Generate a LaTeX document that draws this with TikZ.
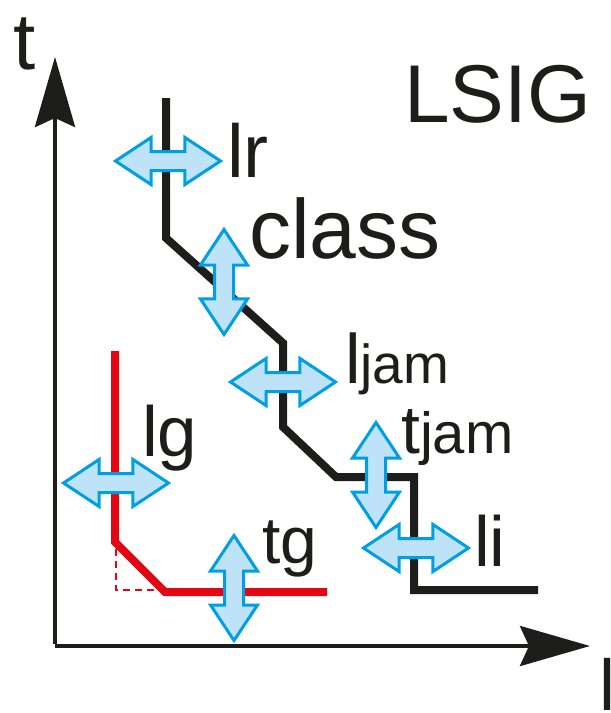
\documentclass[tikz,border=0pt]{standalone}
\usepackage{fontspec}
\setmainfont{Liberation Sans}
\usepackage{xcolor}
\usepackage{tikz}
\usetikzlibrary{arrows.meta,shapes.arrows}

\definecolor{lineblack}{RGB}{29,29,27}
\definecolor{linered}{RGB}{227,6,19}
\definecolor{arrowblue}{RGB}{0,159,227}
\definecolor{arrowfill}{RGB}{190,227,249}

\tikzset{
  dblarrow/.style={shape=double arrow,draw=arrowblue,fill=arrowfill,line width=3pt,
    inner sep=0pt,inner ysep=8pt,minimum height=105pt,minimum width=0pt,
    double arrow head extend=14pt,double arrow tip angle=67},
  lbl/.style={anchor=base west,inner sep=0pt,text=lineblack},
  axis/.style={line width=4pt,lineblack,-{Stealth[length=70pt,width=40pt,inset=9pt]}}
}
\newcommand{\fs}[1]{\fontsize{#1}{#1}\selectfont}

\begin{document}
\begin{tikzpicture}[x=1pt,y=-1pt]
	\useasboundingbox (0,0) rectangle (611,713);
		% axes
		\coordinate (O) at (55,646);
		\draw[axis] ([yshift=2pt]O) -- (55,57) coordinate (t axis);
		\draw[axis] (O) -- (590,646) coordinate (l axis);
		\node[lbl,font=\fs{80}] (tlab) at (13,69) {t};
		\node[lbl,font=\fs{72}] (llab) at (599,710) {l};
		% red curve
		\draw[linered,line width=8pt] (115,351) -- (115,542) -- (165,592) -- (327,592);
		\draw[linered,line width=1.5pt,dash pattern=on 7pt off 5pt] (116,549) -- (116,590) -- (160,590);
		% black curve
		\draw[lineblack,line width=8pt] (166,98) -- (166,238) -- (283,343) -- (283,427)
			-- (336,477) -- (414,477) -- (414,590) -- (538,590);
		% double arrows
		\node[dblarrow] (lr arrow) at (168,161) {};
		\node[dblarrow,rotate=90] (class arrow) at (224,282) {};
		\node[dblarrow] (ljam arrow) at (283,382) {};
		\node[dblarrow,rotate=90] (tjam arrow) at (376,475) {};
		\node[dblarrow] (li arrow) at (416,548) {};
		\node[dblarrow] (lg arrow) at (116,483) {};
		\node[dblarrow,rotate=90] (tg arrow) at (234,588) {};
		% labels
		\node[lbl,font=\fs{82}] (title) at (404,122) {LSIG};
		\node[lbl,font=\fs{75}] (lr) at (227,177) {lr};
		\node[lbl,font=\fs{84}] (class) at (249,258) {class};
		\node[lbl,font=\fs{70}] (ljam) at (345,383) {l{\fs{55}jam}};
		\node[lbl,font=\fs{68}] (tjam) at (401,453) {t{\fs{58}jam}};
		\node[lbl,font=\fs{71}] (li) at (474,566) {li};
		\node[lbl,font=\fs{71}] (lg) at (142,456) {lg};
		\node[lbl,font=\fs{66}] (tg) at (262,563) {tg};
	\end{tikzpicture}
\end{document}
